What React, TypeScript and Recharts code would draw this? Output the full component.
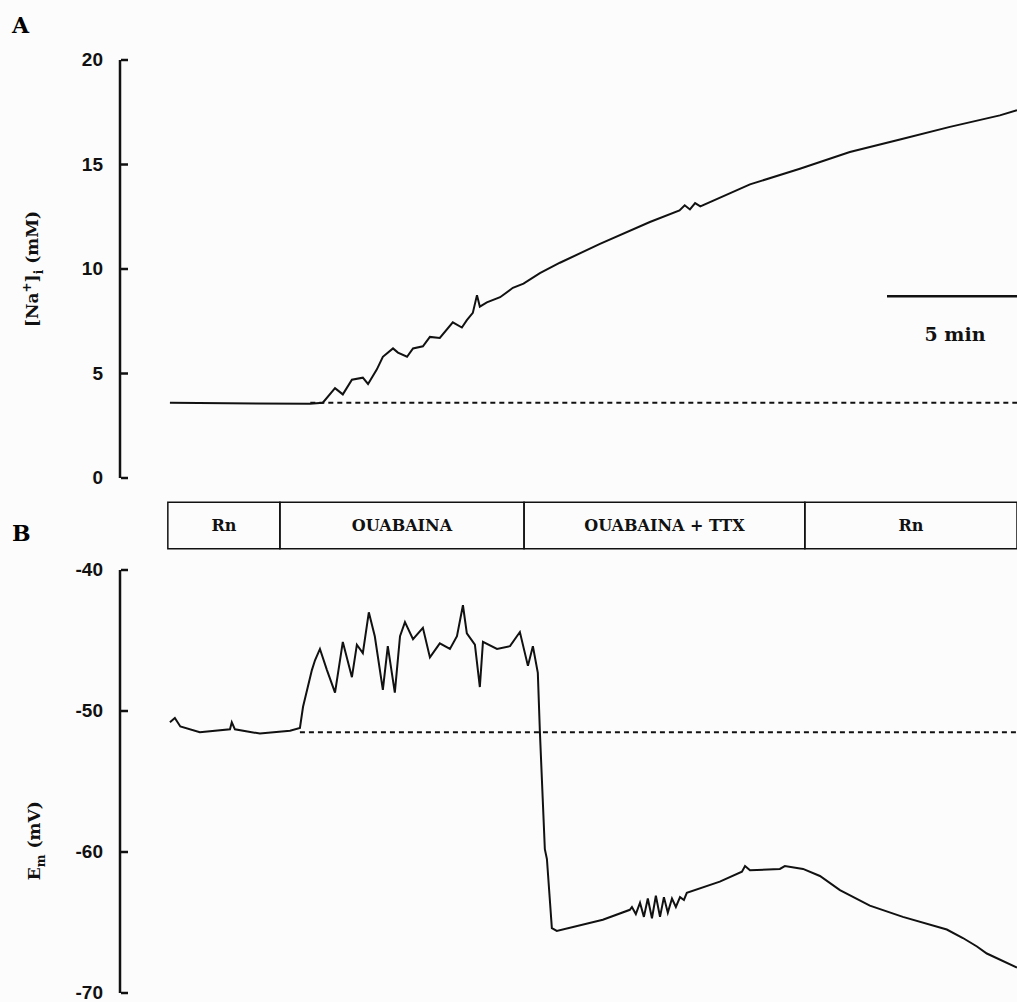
import { LineChart, Line, XAxis, YAxis, ReferenceLine, ReferenceArea, Label } from 'recharts';

// time in minutes from start of trace
const naTime = [0, 5.38, 5.88, 6.35, 6.65, 7.0, 7.42, 7.62, 7.96, 8.19, 8.58, 8.77, 9.12, 9.35, 9.73, 10.0, 10.38, 10.88, 11.23, 11.42, 11.65, 11.81, 11.92, 12.19, 12.7, 13.19, 13.6, 14.23, 15.0, 16.54, 18.46, 19.6, 19.8, 20.0, 20.2, 20.4, 22.31, 24.23, 26.15, 28.08, 30.0, 31.92, 32.58];
const naValue = [3.6, 3.55, 3.6, 4.3, 4.0, 4.7, 4.8, 4.5, 5.2, 5.8, 6.2, 6.0, 5.8, 6.2, 6.3, 6.75, 6.7, 7.45, 7.2, 7.55, 7.9, 8.75, 8.2, 8.4, 8.65, 9.1, 9.3, 9.8, 10.3, 11.2, 12.25, 12.8, 13.05, 12.85, 13.15, 13.0, 14.05, 14.8, 15.6, 16.2, 16.8, 17.35, 17.6];

const emTime = [0, 0.19, 0.4, 1.15, 2.31, 2.38, 2.5, 3.46, 4.62, 5.0, 5.12, 5.46, 5.58, 5.77, 6.04, 6.35, 6.65, 7.0, 7.19, 7.42, 7.65, 7.88, 8.19, 8.38, 8.65, 8.85, 9.04, 9.35, 9.73, 10.0, 10.38, 10.77, 11.04, 11.27, 11.42, 11.73, 11.92, 12.04, 12.58, 13.08, 13.46, 13.77, 13.96, 14.15, 14.23, 14.42, 14.5, 14.69, 14.88, 16.65, 17.69, 17.77, 17.92, 18.08, 18.23, 18.38, 18.54, 18.69, 18.85, 19.0, 19.15, 19.31, 19.46, 19.62, 19.77, 19.88, 21.15, 22.0, 22.12, 22.31, 23.46, 23.65, 24.35, 25.0, 25.77, 26.92, 28.19, 29.88, 30.5, 31.04, 31.42, 32.58];
const emValue = [-50.8, -50.5, -51.1, -51.5, -51.3, -50.8, -51.3, -51.6, -51.4, -51.2, -49.7, -47.1, -46.4, -45.6, -47.1, -48.7, -45.1, -47.6, -45.3, -45.9, -43.0, -44.7, -48.5, -45.4, -48.7, -44.7, -43.7, -44.9, -44.1, -46.2, -45.2, -45.6, -44.7, -42.5, -44.5, -45.3, -48.3, -45.1, -45.6, -45.4, -44.4, -46.8, -45.4, -47.3, -51.5, -59.8, -60.5, -65.4, -65.6, -64.8, -64.1, -63.9, -64.4, -63.6, -64.6, -63.3, -64.7, -63.1, -64.6, -63.2, -64.3, -63.3, -63.9, -63.2, -63.4, -62.9, -62.1, -61.4, -61.0, -61.3, -61.2, -61.0, -61.2, -61.7, -62.7, -63.8, -64.6, -65.5, -66.1, -66.7, -67.2, -68.2];

const naTicks = [0, 5, 10, 15, 20];
const emTicks = [-70, -60, -50, -40];

const phaseLabels = ['Rn', 'OUABAINA', 'OUABAINA + TTX', 'Rn'];
const phaseEdges = [-0.08, 4.23, 13.62, 24.42, 32.58];

const naBaseline = 3.6;
const emBaseline = -51.5;
const scaleBarMinutes = 5;
const scaleBarLevel = 8.7;

const naData = naTime.map((t, i) => ({ t, v: naValue[i] }));
const emData = emTime.map((t, i) => ({ t, v: emValue[i] }));

const xDomain = [-1.92, 32.58];
const serif = '"DejaVu Serif", "Liberation Serif", serif';
const sans = '"Liberation Sans", Arial, sans-serif';

function AxisTick(props: any) {
  const { x, y, payload } = props;
  return (
    <g>
      <line x1={121} y1={y} x2={128} y2={y} stroke="#111" strokeWidth={2.5} />
      <text x={x - 17} y={y} dy={6} textAnchor="end" fontFamily={sans} fontWeight="bold" fontSize={19} fill="#111">
        {payload.value}
      </text>
    </g>
  );
}

function NaLabel(props: any) {
  const vb = props.viewBox;
  const cx = 38;
  const cy = vb.y + vb.height / 2;
  return (
    <text transform={`translate(${cx},${cy}) rotate(-90)`} textAnchor="middle" fontFamily={serif} fontWeight="bold" fontSize={17} fill="#111">
      [Na<tspan dy={-7} fontSize={12}>+</tspan><tspan dy={7}>]</tspan><tspan dy={5} fontSize={12}>i</tspan><tspan dy={-5}>{'  (mM)'}</tspan>
    </text>
  );
}

function EmLabel(props: any) {
  const vb = props.viewBox;
  const cx = 40;
  const cy = vb.y + vb.height * 0.64;
  return (
    <text transform={`translate(${cx},${cy}) rotate(-90)`} textAnchor="middle" fontFamily={serif} fontWeight="bold" fontSize={17} fill="#111">
      E<tspan dy={5} fontSize={12}>m</tspan><tspan dy={-5}>{'  (mV)'}</tspan>
    </text>
  );
}

function ScaleLabel(props: any) {
  const vb = props.viewBox || {};
  const x1 = vb.x ?? vb.x1 ?? 0;
  const w = vb.width ?? ((vb.x2 ?? x1) - x1);
  const y = vb.y ?? vb.y1 ?? 0;
  return (
    <text x={x1 + w / 2 + 3} y={y + 45} textAnchor="middle" fontFamily={serif} fontWeight="bold" fontSize={19} fill="#111">
      {scaleBarMinutes} min
    </text>
  );
}

export default function App() {
  return (
    <div style={{ position: 'absolute', left: 0, top: 0, width: 1017, height: 1002, background: '#fcfcfc', overflow: 'hidden' }}>
      <div style={{ position: 'absolute', left: 12, top: 12, fontFamily: serif, fontWeight: 'bold', fontSize: 22 }}>A</div>
      <div style={{ position: 'absolute', left: 12, top: 520, fontFamily: serif, fontWeight: 'bold', fontSize: 22 }}>B</div>

      <div style={{ position: 'absolute', left: 0, top: 0 }}>
        <LineChart width={1017} height={490} data={naData} margin={{ top: 60, right: 0, bottom: 12, left: 0 }}>
          <XAxis dataKey="t" type="number" domain={xDomain} hide allowDataOverflow />
          <YAxis
            width={120}
            domain={[0, 20]}
            ticks={naTicks}
            interval={0}
            tickLine={false}
            tickSize={0}
            tickMargin={0}
            tick={<AxisTick />}
            axisLine={{ stroke: '#111', strokeWidth: 2.5 }}
          >
            <Label content={<NaLabel />} />
          </YAxis>
          <ReferenceLine
            segment={[{ x: 5.4, y: naBaseline }, { x: xDomain[1], y: naBaseline }]}
            stroke="#111"
            strokeWidth={2}
            strokeDasharray="5 4"
          />
          <ReferenceLine
            segment={[{ x: xDomain[1] - scaleBarMinutes, y: scaleBarLevel }, { x: xDomain[1], y: scaleBarLevel }]}
            stroke="#111"
            strokeWidth={2.5}
            label={<ScaleLabel />}
          />
          <Line type="linear" dataKey="v" stroke="#111" strokeWidth={2} dot={false} isAnimationActive={false} />
        </LineChart>
      </div>

      <div style={{ position: 'absolute', left: 0, top: 490 }}>
        <LineChart width={1017} height={512} data={emData} margin={{ top: 80, right: 0, bottom: 9, left: 0 }}>
          <XAxis dataKey="t" type="number" domain={xDomain} hide allowDataOverflow />
          <YAxis
            width={120}
            domain={[-70, -40]}
            ticks={emTicks}
            interval={0}
            tickLine={false}
            tickSize={0}
            tickMargin={0}
            tick={<AxisTick />}
            axisLine={{ stroke: '#111', strokeWidth: 2.5 }}
          >
            <Label content={<EmLabel />} />
          </YAxis>
          {phaseLabels.map((name, i) => (
            <ReferenceArea
              key={i}
              x1={phaseEdges[i]}
              x2={phaseEdges[i + 1]}
              y1={-38.5}
              y2={-35.2}
              ifOverflow="visible"
              fill="none"
              stroke="#111"
              strokeWidth={1.5}
              label={{ value: name, position: 'center', fontFamily: serif, fontWeight: 'bold', fontSize: 16, fill: '#111' }}
            />
          ))}
          <ReferenceLine
            segment={[{ x: 5.0, y: emBaseline }, { x: xDomain[1], y: emBaseline }]}
            stroke="#111"
            strokeWidth={2}
            strokeDasharray="5 4"
          />
          <Line type="linear" dataKey="v" stroke="#111" strokeWidth={2} dot={false} isAnimationActive={false} />
        </LineChart>
      </div>
    </div>
  );
}
